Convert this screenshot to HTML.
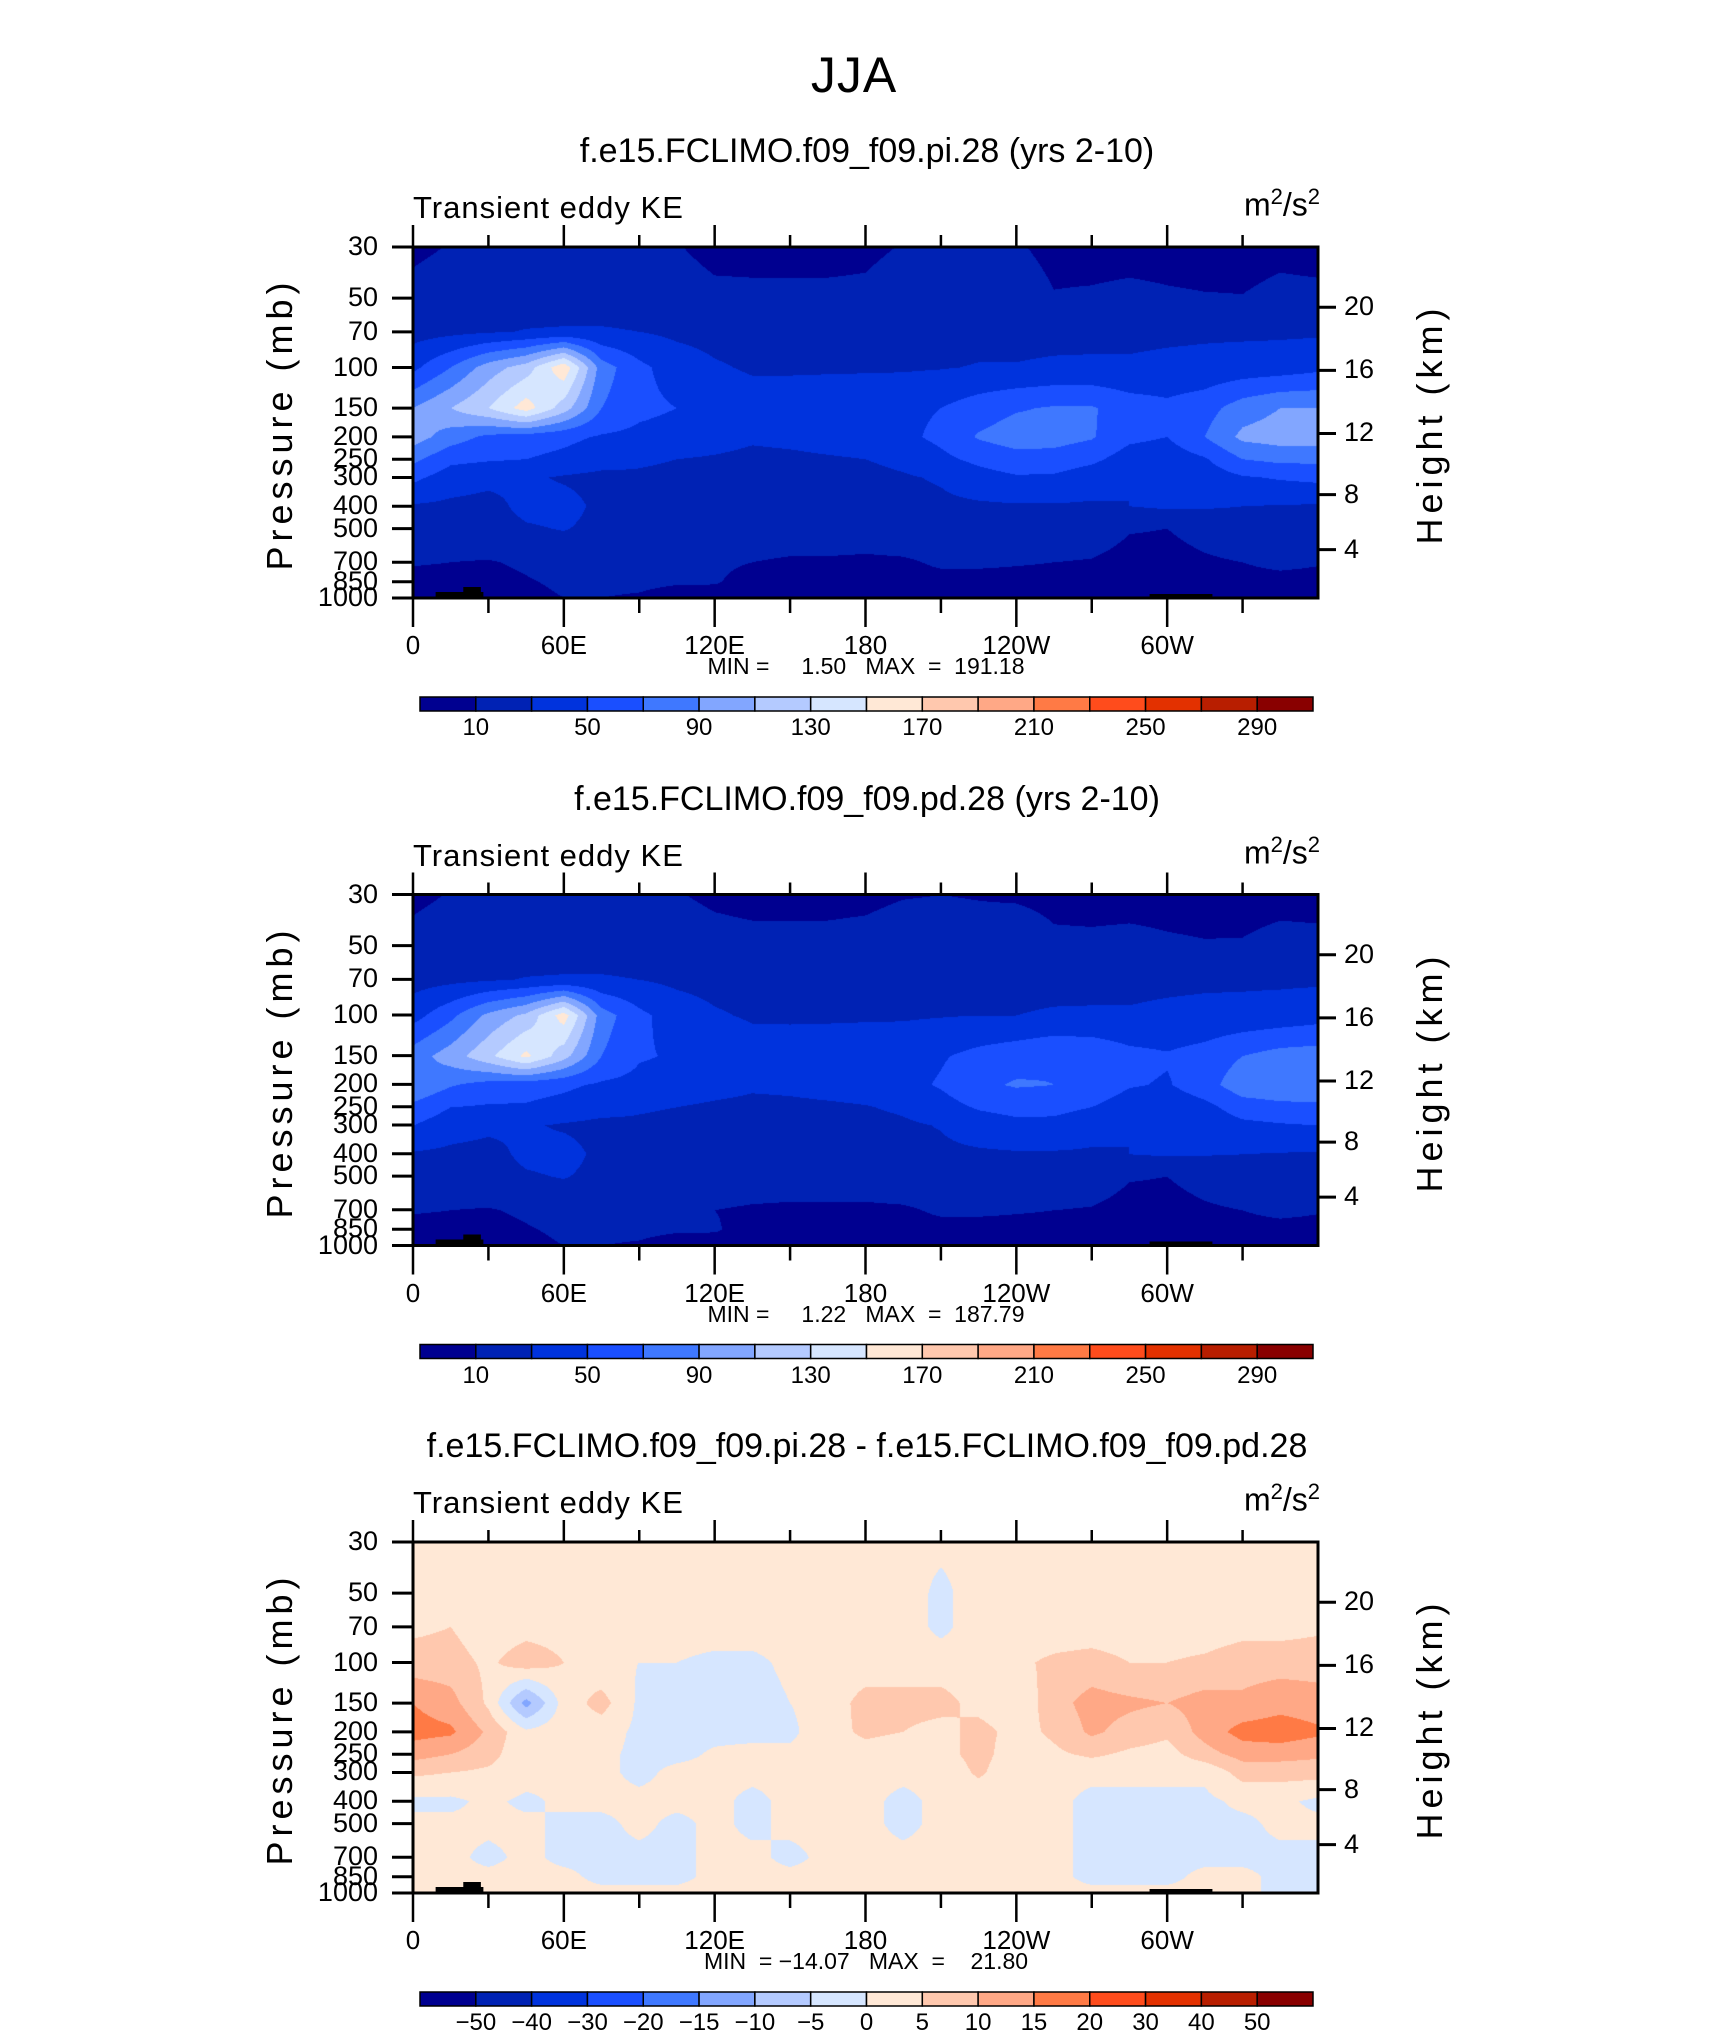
<!DOCTYPE html>
<html><head><meta charset="utf-8">
<style>
body{margin:0;background:#fff;}
#root{position:relative;width:1710px;height:2038px;overflow:hidden;background:#fff;font-family:"Liberation Sans",sans-serif;color:#000;}
.t{position:absolute;white-space:nowrap;}
canvas{position:absolute;}
svg{position:absolute;left:0;top:0;}
</style></head>
<body>
<div id="root">
<div class="t" style="left:0;width:1708px;text-align:center;top:46px;font-size:50px;font-weight:300;letter-spacing:1px;">JJA</div>
</div>
<script>
// ---- data ----
const lons=[0,15,30,45,60,75,90,105,120,135,150,165,180,195,210,225,240,255,270,285,300,315,330,345,360];
const plevs=[30,50,70,100,150,200,250,300,400,500,700,850,1000];
const keLevels=[10,30,50,70,90,110,130,150,170,190,210,230,250,270,290];
const keLabels=["10","50","90","130","170","210","250","290"];
const diffLevels=[-50,-40,-30,-20,-15,-10,-5,0,5,10,15,20,30,40,50];
const diffLabels=["-50","-40","-30","-20","-15","-10","-5","0","5","10","15","20","30","40","50"];
const palette=["#000090","#0022b4","#0033dd","#1a4fff","#3f78ff","#82a6ff","#b4caff","#d6e6ff","#ffe8d6","#ffc8ae","#ffa886","#ff7a45","#ff4c1c","#e33100","#b81e00","#890000"];
const piField=[
[6,11,12,12,13,13,12,11,5,4,4,4,6,11,13,13,12,5,4,4,4,3,4,6,4],
[16,20,20,20,20,20,20,18,14,14,14,14,14,20,20,18,20,11,12,14,12,11,10.5,14,14],
[22,25,28,31,32,32,30,26,24,23,23,23,23,23,23,24,24,24,25,25,26,27,27,27,27],
[45,70,100,120,165,80,55,40,32,28,28,28,28,28,29,31,31,33,33,33,35,36,38,40,45],
[90,110,130,160,120,70,55,50,40,38,38,40,42,45,50,60,68,72,72,60,55,62,80,90,90],
[100,80,65,60,55,48,45,42,38,33,35,38,40,45,55,72,80,78,72,55,50,70,95,100,100],
[75,55,52,50,45,38,33,30,28,25,26,28,30,35,45,55,62,62,55,40,38,48,70,75,75],
[55,40,35,33,28,25,27,25,24,24,24,24,24,28,32,42,48,47,38,30,30,38,48,52,55],
[28,26,24,35,36,26,25,25,25,25,25,25,25,25,26,27,28,28,28,30,33,32,30,29,28],
[20,20,22,28,31,25,20,20,20,19,19,19,19,20,20,20,20,20,18,11,10,15,20,20,20],
[11,10,9,12,17,15,14,13,12,10,8,8,7,8,12,12,11,10,9,5,5,8,10,13,11],
[6,6,6,9,12,12,12,11,11,6,6,6,6,6,6,6,6,6,6,6,6,6,6,6,6],
[5,5,5,7,10,10,9,6,5,5,5,5,5,5,5,5,5,5,5,5,5,5,5,5,5]];
const pdField=[
[6,11,12,12,13,13,12,11,7,5,5,5,6,9,10,9,8,6,5,5,5,4,5,6,5],
[16,20,20,20,20,20,20,19,16,15,15,15,16,20,20,18,20,13,13,14,12,11,11,14,14],
[22,25,28,31,32,32,30,26,24,23,23,23,23,23,23,24,24,24,25,25,26,27,27,27,27],
[42,65,95,115,160,80,55,40,32,28,28,28,28,28,29,30,30,32,32,32,34,35,36,38,42],
[80,100,125,155,118,70,52,48,45,38,37,38,40,42,48,56,62,68,66,56,52,58,70,78,80],
[88,72,62,58,54,47,44,41,37,33,34,37,39,44,52,66,72,70,66,52,48,62,82,86,88],
[65,50,48,48,43,37,32,30,27,25,26,27,29,33,42,52,56,56,50,38,36,44,60,64,65],
[50,38,34,32,28,25,27,25,24,24,24,24,24,27,31,40,45,44,36,30,30,36,45,48,50],
[28,26,24,34,36,26,25,25,25,25,25,25,25,25,26,27,28,28,28,30,32,31,30,29,28],
[20,20,22,28,31,25,20,20,20,19,19,19,19,20,20,20,20,20,18,11,10,15,20,20,20],
[11,10,9,12,17,15,14,13,10,8,7,7,7,8,12,12,11,10,9,5,5,8,10,13,11],
[6,6,6,9,12,12,12,11,11,6,6,6,6,6,6,6,6,6,6,6,6,6,6,6,6],
[5,5,5,7,10,10,9,6,5,5,5,5,5,5,5,5,5,5,5,5,5,5,5,5,5]];
const diffField=[
[1,1,1,1,1,1,1,1,1,1,1,1,1,1,1,1,1,1,1,1,1,1,1,1,1],
[2,2,2,2,2,2,2,2,2,2,2,2,2,2,-1,2,2,2,2,2,2,2,2,2,2],
[4,5,2,3,3,2,2,2,2,2,2,2,2,2,-1,2,2,2,2,2,2,2,3,3,4],
[7,7,4,8,5,1,0,0,-1,-1,1,2,2,2,2,2,4,6,7,5,5,6,8,8,8],
[15,12,4,-12,2,7,-1,-1,-1.5,-2,0,2,7,7,7,3,1,8,12,11,10,12,11,13,12],
[17,16,9,1,3,2,-1,-1,-1,-1,-1,3,6,5,3,7,3,6,11,8,6,12,17,18,16],
[12,10,7,1,1,1,-1,-1,0.5,1,1,2,3,2,3,7,2,4,6,4,3,8,12,12,11],
[6,5,4,2,1,1,-1,1,1,1,1,1,1,1,1,6,1,1,1,1,1,1,7,7,7],
[-1,-1,1,-1,1,1,1,1,1,-1,1,1,1,-1,1,1,1,1,-1,-1,-1,-1,1,1,-1],
[1,1,1,1,-1,-1,1,-1,1,-1,1,1,1,-1,1,1,1,1,-1,-1,-1,-1,-1,1,1],
[1,1,-1,1,-1,-1,-1,-1,1,1,-1,1,1,1,1,1,1,1,-1,-1,-1,-1,-1,-1,-1],
[1,1,1,1,1,-1,-1,-1,1,1,1,1,1,1,1,1,1,1,-1,-1,-1,1,1,-1,-1],
[1,1,1,1,1,1,1,1,1,1,1,1,1,1,1,1,1,1,1,1,1,1,1,-1,-1]];
const heightTicks=[4,8,12,16,20];
const lonTickLabels=["0","60E","120E","180","120W","60W"];
const panels=[
 {title:"f.e15.FCLIMO.f09_f09.pi.28 (yrs 2-10)",field:piField,levels:keLevels,labels:keLabels,labelStep:2,stats:"MIN =&nbsp;&nbsp;&nbsp;&nbsp;&nbsp;1.50&nbsp;&nbsp;&nbsp;MAX&nbsp; = &nbsp;191.18"},
 {title:"f.e15.FCLIMO.f09_f09.pd.28 (yrs 2-10)",field:pdField,levels:keLevels,labels:keLabels,labelStep:2,stats:"MIN =&nbsp;&nbsp;&nbsp;&nbsp;&nbsp;1.22&nbsp;&nbsp;&nbsp;MAX&nbsp; = &nbsp;187.79"},
 {title:"f.e15.FCLIMO.f09_f09.pi.28 - f.e15.FCLIMO.f09_f09.pd.28",field:diffField,levels:diffLevels,labels:diffLabels,labelStep:1,stats:"MIN&nbsp; = &minus;14.07&nbsp;&nbsp;&nbsp;MAX&nbsp; = &nbsp;&nbsp;&nbsp;21.80"}];
// ---- layout ----
const PX=413,PW=905,PT=247,PH=351,DY=647.5;
const LOGR=Math.log10(1000/30);
function yOfP(p){return PH*Math.log10(p/30)/LOGR;}
function xOfLon(l){return PW*l/360;}
function pOfZ(zkm){const z=zkm*1000;if(z<=11000)return 1013.25*Math.pow(1-2.25577e-5*z,5.25588);return 226.32*Math.exp(-(z-11000)/6341.6);}
function hex(c){return [parseInt(c.substr(1,2),16),parseInt(c.substr(3,2),16),parseInt(c.substr(5,2),16)];}
const palRGB=palette.map(hex);
function classOf(v,lv){let k=0;while(k<lv.length&&v>=lv[k])k++;return k;}
const root=document.getElementById('root');
const NS="http://www.w3.org/2000/svg";
const svg=document.createElementNS(NS,'svg');
svg.setAttribute('width','1710');svg.setAttribute('height','2038');


function txt(name,html,style){const d=document.createElement('div');d.className='t';d.innerHTML=html;d.style.cssText=style;


root.appendChild(d);return d;}
function line(x1,y1,x2,y2,w,name){const l=document.createElementNS(NS,'line');l.setAttribute('x1',x1);l.setAttribute('y1',y1);l.setAttribute('x2',x2);l.setAttribute('y2',y2);l.setAttribute('stroke','#000');l.setAttribute('stroke-width',w);


svg.appendChild(l);}
function sample(field,lon,p){
 let j=lon/15;let j0=Math.min(Math.floor(j),lons.length-2);let fx=j-j0;
 const lp=Math.log(p);let i0=0;while(i0<plevs.length-2&&Math.log(plevs[i0+1])<lp)i0++;
 let fy=(lp-Math.log(plevs[i0]))/(Math.log(plevs[i0+1])-Math.log(plevs[i0]));fy=Math.max(0,Math.min(1,fy));
 const a=field[i0][j0],b=field[i0][j0+1],c=field[i0+1][j0],d=field[i0+1][j0+1];
 return (a*(1-fx)+b*fx)*(1-fy)+(c*(1-fx)+d*fx)*fy;}
panels.forEach((pn,k)=>{
 const oy=k*DY, top=PT+oy;
 txt('panel-title-'+(k+1),pn.title,`left:0;width:1734px;text-align:center;top:${132+oy}px;font-size:34px;`);
 txt('variable-label-'+(k+1),'Transient eddy KE',`left:413px;top:${190+oy}px;font-size:31px;font-weight:300;letter-spacing:1px;`);
 txt('units-label-'+(k+1),'m<sup style="font-size:22px">2</sup>/s<sup style="font-size:22px">2</sup>',`right:${1710-1320}px;top:${184+oy}px;font-size:32px;font-weight:300;`);
 txt('y-axis-title-'+(k+1),'Pressure (mb)',`left:${280-160}px;width:320px;text-align:center;top:${424+oy-21}px;font-size:36px;font-weight:300;letter-spacing:5px;transform:rotate(-90deg);`);
 txt('y2-axis-title-'+(k+1),'Height (km)',`left:${1430-160}px;width:320px;text-align:center;top:${424+oy-21}px;font-size:36px;font-weight:300;letter-spacing:5px;transform:rotate(-90deg);`);
 const cv=document.createElement('canvas');cv.width=PW;cv.height=PH;cv.style.left=PX+'px';cv.style.top=top+'px';
 
 
 root.appendChild(cv);
 const ctx=cv.getContext('2d');const img=ctx.createImageData(PW,PH);
 for(let y=0;y<PH;y++){const p=30*Math.pow(10,(y+0.5)/PH*LOGR);
  for(let x=0;x<PW;x++){const lon=(x+0.5)/PW*360;const v=sample(pn.field,lon,p);const c=palRGB[classOf(v,pn.levels)];const o=(y*PW+x)*4;img.data[o]=c[0];img.data[o+1]=c[1];img.data[o+2]=c[2];img.data[o+3]=255;}}
 ctx.putImageData(img,0,0);
 [[9,28,6],[20,27,11],[293,318,4]].forEach((t,ti)=>{const r=document.createElementNS(NS,'rect');r.setAttribute('x',PX+xOfLon(t[0]));r.setAttribute('width',xOfLon(t[1]-t[0]));r.setAttribute('y',top+PH-t[2]);r.setAttribute('height',t[2]);r.setAttribute('fill','#000');
  
  
  svg.appendChild(r);});
 const fr=document.createElementNS(NS,'rect');fr.setAttribute('x',PX);fr.setAttribute('y',top);fr.setAttribute('width',PW);fr.setAttribute('height',PH);fr.setAttribute('fill','none');fr.setAttribute('stroke','#000');fr.setAttribute('stroke-width','3');
 
 
 svg.appendChild(fr);
 plevs.forEach(p=>{const y=top+yOfP(p);line(PX-21,y,PX,y,3,'pressure-tick');
  txt('pressure-tick-label',String(p),`right:${1710-378}px;top:${y-16}px;font-size:27px;font-weight:300;`);});
 heightTicks.forEach(z=>{const y=top+yOfP(pOfZ(z));line(PX+PW,y,PX+PW+18,y,3,'height-tick');
  txt('height-tick-label',String(z),`left:${PX+PW+26}px;top:${y-16}px;font-size:27px;font-weight:300;`);});
 for(let l=0;l<360;l+=30){const x=PX+xOfLon(l);const maj=l%60===0;
  line(x,top+PH,x,top+PH+(maj?29:15),2.5,'lon-tick-bottom');
  line(x,top,x,top-(maj?22:12),2.5,'lon-tick-top');
  if(maj)txt('lon-tick-label',lonTickLabels[l/60],`left:${x-50}px;width:100px;text-align:center;top:${630+oy}px;font-size:26px;font-weight:300;`);}
 txt('min-max-stats-'+(k+1),pn.stats,`left:0;width:1732px;text-align:center;top:${653+oy}px;font-size:23px;font-weight:300;`);
 const cbx=420,cbw=893,cby=697+oy,cbh=14,n=palette.length,cw=cbw/n;
 palette.forEach((c,ci)=>{const r=document.createElementNS(NS,'rect');r.setAttribute('x',cbx+ci*cw);r.setAttribute('y',cby);r.setAttribute('width',cw);r.setAttribute('height',cbh);r.setAttribute('fill',c);r.setAttribute('stroke','#000');r.setAttribute('stroke-width','1.5');
  
  
  svg.appendChild(r);});
 pn.labels.forEach((lb,li)=>{const bi=pn.labelStep===2?(li*2):li;const x=cbx+(bi+1)*cw;
  txt('colorbar-label',lb.replace('-','&minus;'),`left:${x-40}px;width:80px;text-align:center;top:${714+oy}px;font-size:24px;font-weight:300;`);});
});
root.appendChild(svg);
</script>
</body></html>
